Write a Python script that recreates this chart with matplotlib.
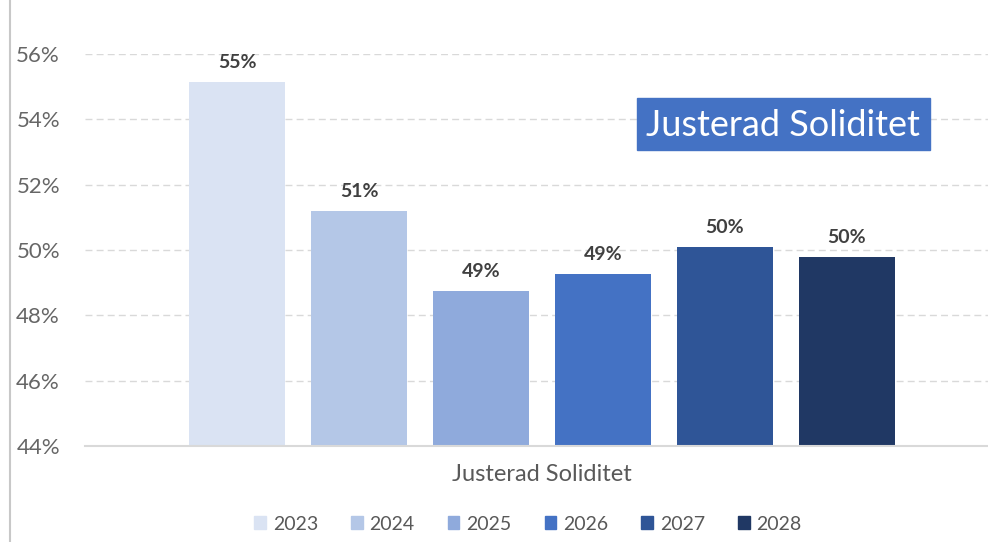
import matplotlib.pyplot as plt
from matplotlib.patches import Patch, Rectangle
from matplotlib.ticker import FuncFormatter
from matplotlib.lines import Line2D

# data
years = ["2023", "2024", "2025", "2026", "2027", "2028"]
values = [55.15, 51.2, 48.75, 49.26, 50.1, 49.79]
colors = ["#DAE3F3", "#B4C7E7", "#8FAADC", "#4472C4", "#2F5597", "#203864"]
category = "Justerad Soliditet"
yticks = [44, 46, 48, 50, 52, 54, 56]

plt.rcParams['font.family'] = ['Lato', 'DejaVu Sans']

W, H = 988, 542
fig = plt.figure(figsize=(W / 100, H / 100), dpi=100)
ax = fig.add_axes([85 / W, 1 - 446 / H, 1 - 85 / W, (446 - 54) / H])

x = list(range(len(years)))
bars = ax.bar(x, values, width=0.787, color=colors, zorder=3)

for xi, v in zip(x, values):
    ax.annotate(f"{round(v):.0f}%", (xi, v), xytext=(0, 8), textcoords="offset points",
                ha="center", va="bottom", fontsize=14, fontweight="bold", color="#404040")

ax.set_xlim(-1.246, 6.156)
ax.set_ylim(44, 56)
ax.set_yticks(yticks)
ax.yaxis.set_major_formatter(FuncFormatter(lambda v, p: f"{v:.0f}%"))
ax.tick_params(axis="y", length=0, labelsize=16, labelcolor="#666666", pad=18)
ax.set_xticks([2.5])
ax.set_xticklabels([category])
ax.tick_params(axis="x", length=0, labelsize=17, labelcolor="#595959", pad=13)

ax.grid(axis="y", color="#D9D9D9", linestyle=(0, (5, 3)), linewidth=1, zorder=0)
for s in ["top", "right", "left"]:
    ax.spines[s].set_visible(False)
ax.spines["bottom"].set_color("#D9D9D9")
ax.spines["bottom"].set_linewidth(1.5)
ax.spines["bottom"].set_zorder(4)

# vertical border line at the left edge
fig.add_artist(Line2D([10 / W, 10 / W], [0, 1], color="#C8C8C8", linewidth=1.5))

# title box
fig.add_artist(Rectangle((637 / W, 1 - 150 / H), (930 - 637) / W, 52 / H,
                         facecolor="#4472C4", edgecolor="#4472C4", zorder=5))
fig.text(783 / W, 1 - 125 / H, category, ha="center", va="center", fontsize=26,
         color="white", zorder=6)

handles = [Patch(facecolor=c, edgecolor=c) for c in colors]
fig.legend(handles, years, loc="center", bbox_to_anchor=(528 / W, 1 - 524 / H), ncol=6,
           frameon=False, fontsize=14, handlelength=0.6, handleheight=0.6,
           handletextpad=0.35, columnspacing=1.7, labelcolor="#595959")

fig.savefig("out.png", dpi=100)
